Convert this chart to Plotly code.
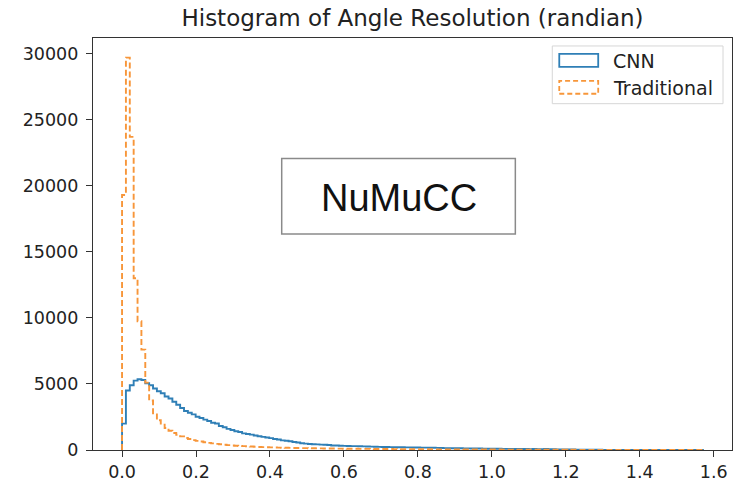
import numpy as np
import plotly.graph_objects as go

# ---------------- data ----------------
N_BINS = 150
X_MAX = np.pi / 2

cnn_counts = [
    2000, 4500, 4900, 5250, 5350, 5300, 5050, 4900, 4650, 4450,
    4300, 4050, 3900, 3650, 3420, 3180, 2950, 2820, 2700, 2520,
    2420, 2300, 2200, 2060, 2010, 1820, 1720, 1600, 1510, 1420,
    1360, 1260, 1210, 1160, 1100, 1040, 990, 950, 900, 830,
    790, 730, 700, 660, 610, 570, 510, 485, 455, 440,
    425, 410, 400, 375, 345, 335, 325, 315, 305, 295,
    290, 282, 276, 266, 258, 248, 240, 232, 226, 220,
    215, 210, 205, 200, 196, 190, 186, 182, 178, 172,
    168, 162, 148, 144, 140, 136, 132, 128, 124, 120,
    116, 112, 108, 104, 100, 97, 94, 91, 88, 85,
    82, 80, 77, 75, 72, 70, 80, 66, 62, 78,
    56, 52, 48, 45, 42, 38, 34, 30, 27, 24,
    21, 19, 17, 15, 13, 12, 11, 10, 9, 8,
    8, 7, 6, 6, 5, 5, 4, 4, 3, 3,
    3, 2, 2, 2, 2, 1, 1, 1, 1, 1,
]

trad_counts = [
    19300, 29700, 23700, 13000, 9750, 7600, 5100, 3750, 2700, 2250,
    1920, 1660, 1460, 1290, 1150, 1030, 910, 830, 750, 690,
    640, 590, 540, 500, 460, 430, 400, 370, 345, 325,
    305, 290, 275, 260, 245, 232, 220, 208, 198, 190,
    182, 175, 168, 162, 156, 150, 145, 140, 135, 130,
    126, 122, 118, 114, 110, 106, 103, 100, 97, 94,
    91, 88, 86, 84, 82, 80, 78, 76, 74, 72,
    70, 68, 66, 64, 62, 60, 58, 57, 55, 54,
    52, 51, 50, 48, 47, 46, 44, 43, 42, 41,
    40, 39, 38, 37, 36, 35, 34, 33, 32, 31,
    30, 29, 28, 27, 26, 25, 24, 23, 22, 21,
    20, 19, 18, 17, 16, 15, 14, 14, 13, 13,
    12, 12, 11, 11, 10, 10, 9, 9, 8, 8,
    7, 7, 6, 6, 5, 5, 5, 4, 4, 4,
    3, 3, 3, 3, 2, 2, 2, 2, 1, 1,
]

series_names = ["CNN", "Traditional"]
x_tick_vals = [0.0, 0.2, 0.4, 0.6, 0.8, 1.0, 1.2, 1.4, 1.6]
y_tick_vals = [0, 5000, 10000, 15000, 20000, 25000, 30000]
title_text = "Histogram of Angle Resolution (randian)"
box_text = "NuMuCC"

# ---------------- styling ----------------
BLUE = "#2f7fb6"
ORANGE = "#f7963a"
AXIS = "#333333"
TXT = "#222222"
FONT = "DejaVu Sans"

edges = np.linspace(0, X_MAX, N_BINS + 1)


def step_xy(counts):
    xs = np.concatenate([[edges[0]], edges])
    ys = np.concatenate([[0], counts, [0]])
    return xs, ys


fig = go.Figure()
for counts, name, color, dash in [
    (cnn_counts, series_names[0], BLUE, "solid"),
    (trad_counts, series_names[1], ORANGE, "6px,3px"),
]:
    xs, ys = step_xy(counts)
    fig.add_trace(go.Scatter(
        x=xs, y=ys, mode="lines", name=name, line_shape="hv",
        line=dict(color=color, width=1.9, dash=dash), showlegend=False,
        hoverinfo="skip",
    ))

pad = 0.05 * X_MAX
ymax = max(max(cnn_counts), max(trad_counts)) * 1.05

fig.update_layout(
    width=734, height=483,
    margin=dict(l=93, r=1, t=38, b=31),
    paper_bgcolor="white", plot_bgcolor="white",
    font=dict(family=FONT, color=TXT, size=17),
    title=dict(text=title_text, x=0.5, xref="paper", xanchor="center",
               y=1 - 18 / 483, yref="container", yanchor="middle",
               font=dict(family=FONT, size=23, color=TXT)),
    showlegend=False,
)
fig.update_xaxes(
    range=[-pad, X_MAX + pad], tickvals=x_tick_vals, tickformat=".1f",
    showgrid=False, zeroline=False, showline=True, linecolor=AXIS, linewidth=1.4,
    mirror=True, ticks="outside", ticklen=6, tickwidth=1.2, tickcolor=AXIS,
    tickfont=dict(family=FONT, size=17.5, color=TXT),
)
fig.update_yaxes(
    range=[0, ymax], tickvals=y_tick_vals, tickformat="d",
    showgrid=False, zeroline=False, showline=True, linecolor=AXIS, linewidth=1.4,
    mirror=True, ticks="outside", ticklen=6, tickwidth=1.2, tickcolor=AXIS,
    tickfont=dict(family=FONT, size=17.5, color=TXT), ticklabelstandoff=4,
)


def px_x(px):
    return (px - 93) / 640


def px_y(py):
    return 1 - (py - 38) / 414


# NuMuCC text box
fig.add_shape(type="rect", xref="paper", yref="paper",
              x0=px_x(282), x1=px_x(516), y0=px_y(235), y1=px_y(159),
              line=dict(color="#8a8a8a", width=1.5), fillcolor="white", layer="above")
fig.add_annotation(x=px_x(399), y=px_y(199), xref="paper", yref="paper",
                   text=box_text, showarrow=False, xanchor="center", yanchor="middle",
                   font=dict(family="Liberation Sans", size=38, color="#111111"))

# Legend (matplotlib style, drawn manually)
fig.add_shape(type="rect", xref="paper", yref="paper",
              x0=px_x(553), x1=px_x(724), y0=px_y(104), y1=px_y(46),
              line=dict(color="#d6d6d6", width=1), fillcolor="white", layer="above")
fig.add_shape(type="rect", xref="paper", yref="paper",
              x0=px_x(560), x1=px_x(599), y0=px_y(67), y1=px_y(54),
              line=dict(color=BLUE, width=1.8), fillcolor="rgba(0,0,0,0)", layer="above")
fig.add_shape(type="rect", xref="paper", yref="paper",
              x0=px_x(560), x1=px_x(599), y0=px_y(94), y1=px_y(81),
              line=dict(color=ORANGE, width=1.8, dash="5px,3px"),
              fillcolor="rgba(0,0,0,0)", layer="above")
for label, cy in [(series_names[0], 61), (series_names[1], 88)]:
    fig.add_annotation(x=px_x(612), y=px_y(cy), xref="paper", yref="paper",
                       text=label, showarrow=False, xanchor="left", yanchor="middle",
                       font=dict(family=FONT, size=19, color=TXT))

fig.write_html("out.html")
